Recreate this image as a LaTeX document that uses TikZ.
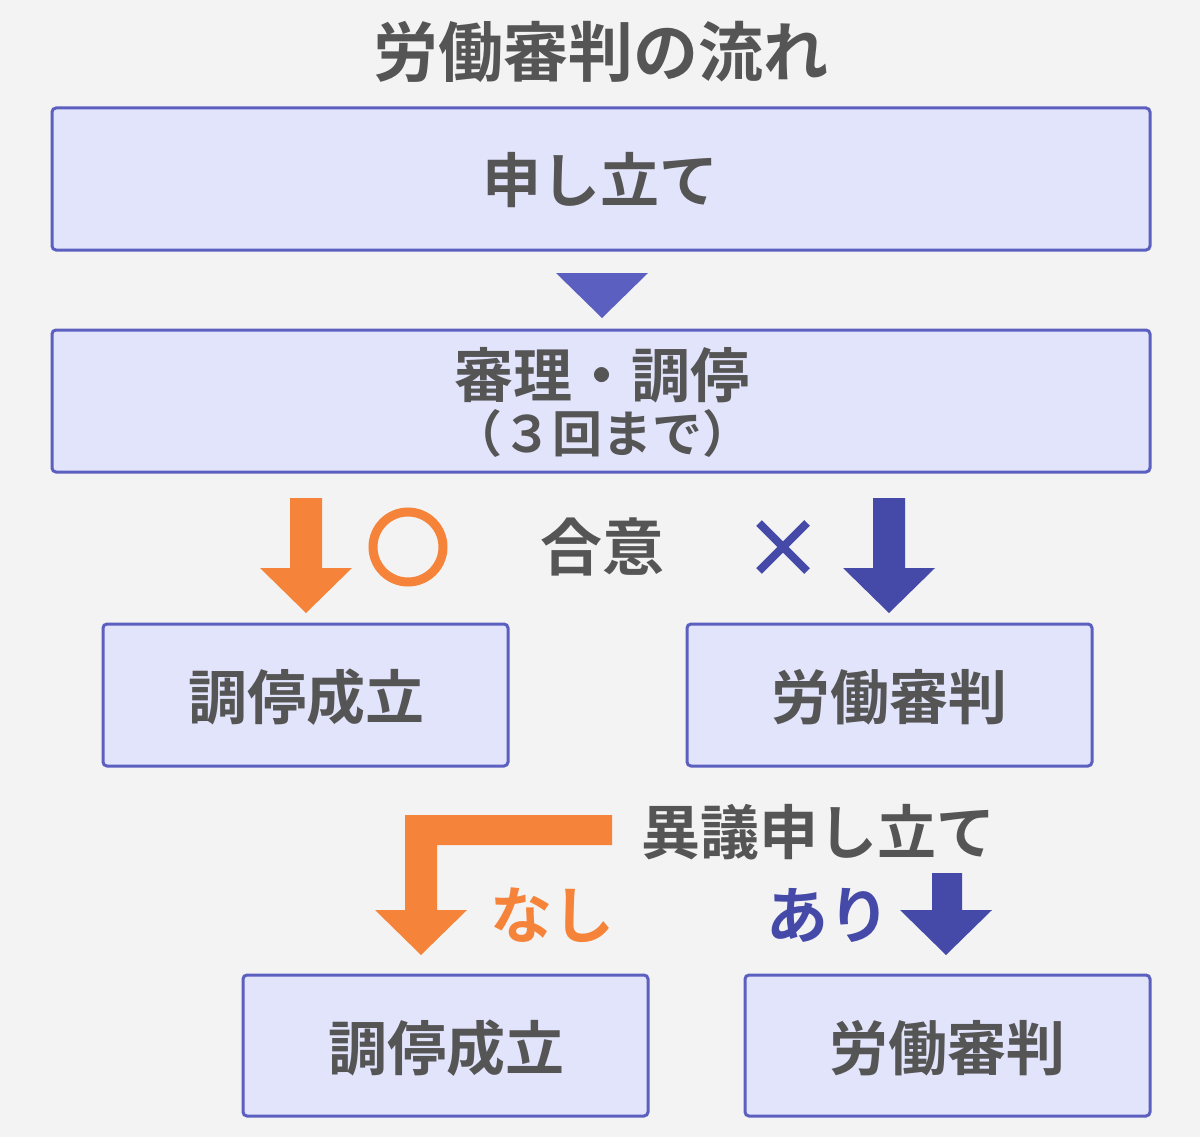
\documentclass[tikz,border=0pt]{standalone}
\usepackage{fontspec}
\setmainfont{Noto Sans CJK JP}[BoldFont={Noto Sans CJK JP Bold}]
\definecolor{bg}{HTML}{F3F3F3}
\definecolor{boxfill}{HTML}{E2E4FC}
\definecolor{boxline}{HTML}{5B5FBF}
\definecolor{txt}{HTML}{555555}
\definecolor{orn}{HTML}{F5843A}
\definecolor{blu}{HTML}{4549A8}
\begin{document}
\begin{tikzpicture}[x=1pt,y=-1pt,
  box/.style={draw=boxline,line width=3pt,fill=boxfill,rounded corners=4pt},
  lbl/.style={text=txt,font=\bfseries\fontsize{59}{66}\selectfont,inner sep=0pt},
  big/.style={font=\bfseries\fontsize{62}{66}\selectfont}]
\fill[bg] (0,0) rectangle (1200,1137);
\useasboundingbox (0,0) rectangle (1200,1137);
\node[lbl,font=\bfseries\fontsize{65}{70}\selectfont] (title) at (601,52) {労働審判の流れ};
\draw[box] (52,108) rectangle (1150,250);
\node[lbl] (n1) at (600,180) {申し立て};
\fill[boxline] (556,273) -- (648,273) -- (602,318) -- cycle;
\draw[box] (52,330) rectangle (1150,472);
\node[lbl] (n2) at (602,375) {審理・調停};
\node[lbl,font=\bfseries\fontsize{50}{56}\selectfont] (n2b) at (602,433) {（３回まで）};
\fill[orn] (290,498) -- (322,498) -- (322,568) -- (352,568) -- (306,613) -- (260,568) -- (290,568) -- cycle;
\draw[orn,line width=9pt] (408,547) circle (35);
\node[lbl,big] (agree) at (602,547) {合意};
\draw[blu,line width=8pt] (759,523) -- (807,571) (807,523) -- (759,571);
\fill[blu] (873,498) -- (905,498) -- (905,568) -- (935,568) -- (889,613) -- (843,568) -- (873,568) -- cycle;
\draw[box] (103,624) rectangle (508,766);
\node[lbl] (n3) at (306,697) {調停成立};
\draw[box] (687,624) rectangle (1092,766);
\node[lbl] (n4) at (889,697) {労働審判};
\fill[orn] (612,815) -- (612,845) -- (437,845) -- (437,910) -- (467,910) -- (421,955) -- (375,910) -- (405,910) -- (405,815) -- cycle;
\node[lbl] (obj) at (818,832) {異議申し立て};
\node[lbl,big,text=orn] (nashi) at (552,915) {なし};
\node[lbl,big,text=blu] (ari) at (828,915) {あり};
\fill[blu] (932,873) -- (962,873) -- (962,910) -- (992,910) -- (946,955) -- (900,910) -- (932,910) -- cycle;
\draw[box] (243,975) rectangle (648,1116);
\node[lbl] (n5) at (446,1048) {調停成立};
\draw[box] (745,975) rectangle (1150,1116);
\node[lbl] (n6) at (947,1048) {労働審判};
\end{tikzpicture}
\end{document}
